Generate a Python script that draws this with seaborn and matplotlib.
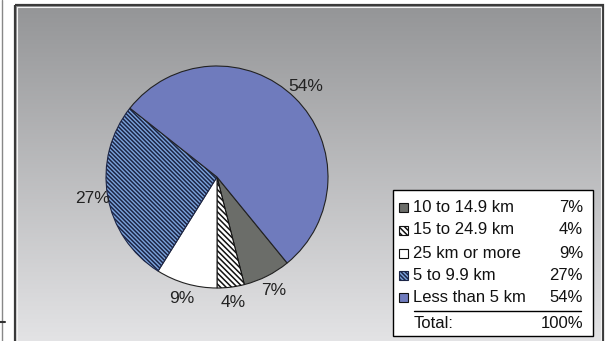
import numpy as np
import matplotlib
matplotlib.use("Agg")
import matplotlib.pyplot as plt
from matplotlib.patches import Rectangle
import seaborn as sns

# ------------------------------
# Data
# ------------------------------
categories = ["10 to 14.9 km", "15 to 24.9 km", "25 km or more", "5 to 9.9 km", "Less than 5 km"]
shares = [7, 4, 9, 27, 54]
pct_labels = ["7%", "4%", "9%", "27%", "54%"]
total_label = "100%"

colors = ["#6b6d69", "#ffffff", "#ffffff", "#7ba3dc", "#6f7bbd"]
hatches = [None, "\\" * 6, None, "\\" * 8, None]
edges = ["#222222", "#111111", "#222222", "#1c2546", "#222222"]

sns.set_style("white")
plt.rcParams["font.family"] = ["Liberation Sans", "DejaVu Sans"]
plt.rcParams["hatch.linewidth"] = 1.1

W, H = 606, 341
fig = plt.figure(figsize=(W / 100, H / 100), dpi=100)
fig.patch.set_facecolor("white")

# background axes in pixel coordinates
bg = fig.add_axes([0, 0, 1, 1])
bg.set_xlim(0, W)
bg.set_ylim(H, 0)
bg.axis("off")

# gradient panel
grad = np.linspace(0, 1, 256).reshape(-1, 1)
top = np.array([148, 149, 151]) / 255
bot = np.array([228, 228, 230]) / 255
img = top + (bot - top) * grad[..., None]
bg.imshow(img, extent=[15, 602, 345, 5], aspect="auto", zorder=0)
bg.add_patch(Rectangle((14.5, 4.5), 588, 345, fill=False, ec="#3a3a3a", lw=1.6, zorder=2))
bg.add_patch(Rectangle((16.5, 6.5), 584, 345, fill=False, ec="#f2f2f2", lw=0.8, zorder=2))
# left thin line and tick
bg.plot([2, 2], [0, 341], color="#888888", lw=1.0)
bg.plot([0, 5], [322, 322], color="#333333", lw=1.5)

# ------------------------------
# Pie
# ------------------------------
cx, cy, r = 217, 177, 111
ax = fig.add_axes([(cx - r) / W, (H - cy - r) / H, 2 * r / W, 2 * r / H])
it = iter(pct_labels)
wedges, texts, autotexts = ax.pie(
    shares, colors=colors, startangle=-90 + (shares[0] + shares[1]) / sum(shares) * 360,
    counterclock=False, autopct=lambda p: next(it), pctdistance=1.14,
    wedgeprops=dict(linewidth=0.8),
    textprops=dict(fontsize=12.5, color="#222222"),
)
for w, h, e in zip(wedges, hatches, edges):
    w.set_edgecolor(e)
    if h:
        w.set_hatch(h)
ax.set_xlim(-1, 1)
ax.set_ylim(-1, 1)
ax.set_aspect("equal")
ax.axis("off")

# ------------------------------
# Legend table
# ------------------------------
fs = 12
bg.add_patch(Rectangle((393, 190), 200, 146, fc="white", ec="black", lw=1.0, zorder=3))
row_y = [207, 230, 253, 275, 297]
for y, c, h, e, name, pct in zip(row_y, colors, hatches, edges, categories, pct_labels):
    bg.add_patch(Rectangle((399, y - 4.5), 9, 9, fc=c, ec="#111111" if h is None else e,
                           hatch=h, lw=0.8, zorder=4))
    bg.text(413, y, name, fontsize=fs, va="center", ha="left", color="#111111", zorder=5)
    bg.text(583, y, pct, fontsize=fs, va="center", ha="right", color="#111111", zorder=5)
bg.plot([414, 581], [311, 311], color="black", lw=1.0, zorder=5)
bg.text(414, 323, "Total:", fontsize=fs, va="center", ha="left", color="#111111", zorder=5)
bg.text(583, 323, total_label, fontsize=fs, va="center", ha="right", color="#111111", zorder=5)

plt.savefig("out.png", dpi=100)
plt.close()
